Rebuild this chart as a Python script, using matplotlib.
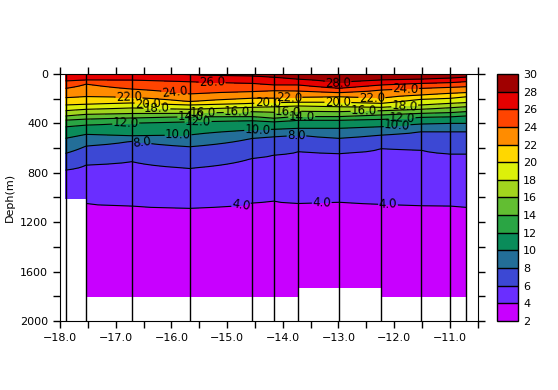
import numpy as np
import matplotlib
matplotlib.use("Agg")
import matplotlib.pyplot as plt
from matplotlib.ticker import FuncFormatter

# station longitudes and max cast depth (m)
lons = [-17.90, -17.53, -16.71, -15.67, -14.55, -14.16, -13.72, -12.99, -12.23, -11.52, -10.99, -10.71]
max_depth = [1010, 1800, 1800, 1800, 1800, 1800, 1800, 1730, 1800, 1800, 1800, 1800]
surface_t = [27.6, 27.7, 27.8, 28.1, 28.6, 28.8, 29.0, 29.3, 29.0, 28.9, 28.8, 28.7]
bottom_t = [3.0] * 12

# depth (m) of each isotherm at each station
iso_levels = [28, 26, 24, 22, 20, 18, 16, 14, 12, 10, 8, 6, 4]
iso_depth = [
    [np.nan, np.nan, np.nan, 8, 16, 27, 43, 76, 49, 43, 35, 27],
    [57, 49, 49, 62, 76, 89, 89, 116, 89, 76, 70, 62],
    [116, 81, 122, 162, 143, 135, 138, 151, 130, 116, 108, 103],
    [192, 184, 189, 224, 197, 197, 189, 184, 197, 170, 157, 151],
    [251, 246, 235, 251, 238, 232, 229, 229, 238, 205, 197, 184],
    [297, 286, 275, 286, 270, 265, 259, 265, 270, 251, 238, 232],
    [340, 327, 320, 319, 305, 310, 302, 305, 297, 286, 273, 265],
    [373, 365, 356, 346, 346, 359, 346, 346, 332, 319, 313, 305],
    [427, 413, 397, 386, 378, 386, 373, 373, 367, 351, 346, 340],
    [521, 489, 500, 494, 454, 448, 440, 440, 427, 405, 400, 400],
    [643, 583, 543, 589, 521, 508, 494, 521, 494, 467, 467, 467],
    [778, 737, 710, 764, 683, 656, 629, 643, 602, 616, 648, 648],
    [1060, 1047, 1069, 1085, 1042, 1029, 1047, 1037, 1053, 1064, 1069, 1080],
]

colors = ["#c800ff", "#6a2eff", "#3c48d4", "#236e98", "#0a8c5a", "#2aa544",
          "#62be32", "#a2d51e", "#dcf00a", "#ffd700", "#ff8c00", "#ff4400",
          "#e60000", "#a00000"]
levels = np.arange(2, 32, 2)

# label positions (lon, depth)
label_pos = [(-15.27, 89), (-15.94, 146), (-16.76, 194), (-16.42, 235), (-16.26, 292),
             (-16.82, 397), (-15.88, 462), (-16.53, 543), (-15.43, 316), (-15.65, 356),
             (-15.52, 397), (-14.82, 292), (-14.27, 235), (-13.89, 203), (-13.91, 316),
             (-13.66, 356), (-14.45, 462), (-13.75, 518), (-13.01, 81), (-13.01, 227),
             (-12.40, 194), (-12.54, 308), (-11.79, 146), (-11.81, 262), (-11.86, 348),
             (-11.95, 405), (-14.75, 1053), (-13.30, 1045), (-12.11, 1053)]

# build station profiles on a depth grid
z = np.arange(0, 1801, 10)
iso = np.array(iso_depth, dtype=float)
temp = np.ma.masked_all((len(z), len(lons)))
for i in range(len(lons)):
    d = [0.0]
    t = [surface_t[i]]
    for k, lev in enumerate(iso_levels):
        if not np.isnan(iso[k, i]):
            d.append(iso[k, i])
            t.append(lev)
    d.append(1800.0)
    t.append(bottom_t[i])
    col = np.interp(z, d, t)
    temp[:, i] = np.ma.masked_where(z > max_depth[i], col)

fig = plt.figure(figsize=(5.58, 3.9), dpi=100)
ax = fig.add_axes([0.1075, 0.177, 0.7486, 0.6333])

cf = ax.contourf(lons, z, temp, levels=levels, colors=colors, corner_mask=False)
cs = ax.contour(lons, z, temp, levels=levels[1:-1], colors="black", linewidths=0.8,
                corner_mask=False)
ax.clabel(cs, fmt="%.1f", fontsize=8.5, manual=label_pos, inline=True, inline_spacing=1)

for x in lons:
    ax.axvline(x, color="black", lw=1)

ax.set_xlim(-18, -10.5)
ax.set_ylim(2000, 0)
ax.set_xticks(np.arange(-18, -10.9, 1.0))
ax.set_xticks(np.arange(-18, -10.4, 0.5), minor=True)
ax.xaxis.set_major_formatter(FuncFormatter(lambda v, p: ("%.1f" % v).replace("-", "\u2212")))
ax.set_yticks(np.arange(0, 2001, 400))
ax.set_yticks(np.arange(0, 2001, 200), minor=True)
ax.tick_params(which="both", direction="out", length=5, width=1, top=True, right=True,
               labelsize=8)
ax.set_ylabel("Deph(m)", fontsize=8)

cax = fig.add_axes([0.891, 0.177, 0.0376, 0.6333])
cb = fig.colorbar(cf, cax=cax, drawedges=True)
cb.set_ticks(levels)
cb.ax.tick_params(length=0, labelsize=8)
cb.outline.set_linewidth(1)
cb.dividers.set_linewidth(1)

fig.savefig("out.png", dpi=100)
